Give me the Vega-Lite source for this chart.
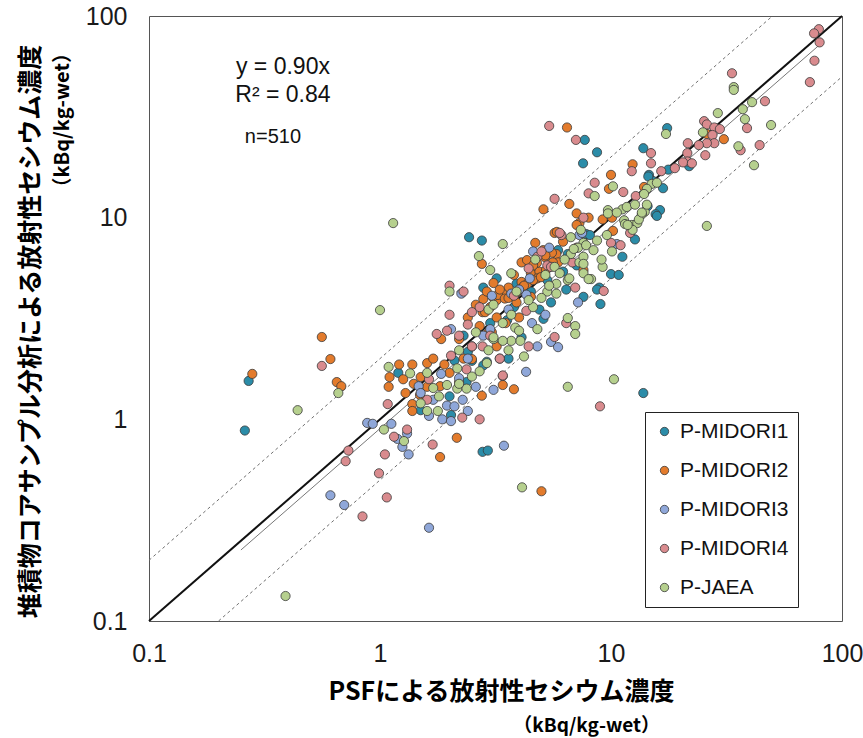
{
  "$schema": "https://vega.github.io/schema/vega-lite/v6.json",
  "width": 693,
  "height": 605,
  "autosize": "none",
  "padding": {"left": 149, "top": 16, "right": 21, "bottom": 117},
  "background": "white",
  "config": {
    "view": {"stroke": "#555555", "strokeWidth": 1},
    "font": "Liberation Sans"
  },
  "datasets": {
    "lines": [
      {"line": "one", "x": 0.1, "y": 0.1}, {"line": "one", "x": 100, "y": 100},
      {"line": "reg", "x": 0.25, "y": 0.225}, {"line": "reg", "x": 80, "y": 72},
      {"line": "up", "x": 0.1, "y": 0.2}, {"line": "up", "x": 50, "y": 100},
      {"line": "lo", "x": 0.2, "y": 0.1}, {"line": "lo", "x": 100, "y": 50}
    ],
    "notes": [
      {"g": "eq", "label": "y = 0.90x", "x": 0.38, "y": 55.8},
      {"g": "eq", "label": "R² = 0.84", "x": 0.38, "y": 40.5},
      {"g": "n", "label": "n=510", "x": 0.344, "y": 25.1},
      {"g": "ux", "label": "（kBq/kg-wet）", "x": 16.3, "y": 0.0303},
      {"g": "uy", "label": "（kBq/kg-wet）", "x": 0.0425, "y": 73.4}
    ],
    "pts": [
      {"s":"P-MIDORI1","x":0.26,"y":0.88},{"s":"P-MIDORI1","x":0.27,"y":1.55},{"s":"P-MIDORI1","x":2.78,"y":0.69},{"s":"P-MIDORI1","x":2.93,"y":0.7},{"s":"P-MIDORI1","x":13.8,"y":1.35},{"s":"P-MIDORI1","x":9.0,"y":3.73},{"s":"P-MIDORI1","x":8.9,"y":4.5},{"s":"P-MIDORI1","x":13.8,"y":22.1},{"s":"P-MIDORI1","x":17.5,"y":27.8},{"s":"P-MIDORI1","x":21.8,"y":18.0},{"s":"P-MIDORI1","x":17.7,"y":17.3},{"s":"P-MIDORI1","x":14.6,"y":16.3},{"s":"P-MIDORI1","x":15.2,"y":15.2},{"s":"P-MIDORI1","x":16.8,"y":14.0},{"s":"P-MIDORI1","x":14.4,"y":11.4},{"s":"P-MIDORI1","x":16.3,"y":10.9},{"s":"P-MIDORI1","x":15.6,"y":10.4},{"s":"P-MIDORI1","x":7.7,"y":24.3},{"s":"P-MIDORI1","x":8.7,"y":21.1},{"s":"P-MIDORI1","x":7.57,"y":18.6},{"s":"P-MIDORI1","x":14.5,"y":16.0},{"s":"P-MIDORI1","x":12.7,"y":7.8},{"s":"P-MIDORI1","x":15.8,"y":10.2},{"s":"P-MIDORI1","x":11.2,"y":6.4},{"s":"P-MIDORI1","x":10.0,"y":5.25},{"s":"P-MIDORI1","x":10.8,"y":5.2},{"s":"P-MIDORI1","x":7.8,"y":8.3},{"s":"P-MIDORI1","x":2.43,"y":8.0},{"s":"P-MIDORI1","x":2.76,"y":7.7},{"s":"P-MIDORI1","x":3.2,"y":5.0},{"s":"P-MIDORI1","x":2.8,"y":4.5},{"s":"P-MIDORI1","x":2.03,"y":1.05},{"s":"P-MIDORI1","x":2.1,"y":1.96},{"s":"P-MIDORI1","x":2.37,"y":1.53},{"s":"P-MIDORI1","x":1.5,"y":1.11},{"s":"P-MIDORI1","x":1.2,"y":1.7},{"s":"P-MIDORI1","x":2.4,"y":2.16},{"s":"P-MIDORI1","x":2.9,"y":1.93},{"s":"P-MIDORI1","x":6.4,"y":4.4},{"s":"P-MIDORI1","x":7.6,"y":4.05},{"s":"P-MIDORI1","x":8.7,"y":4.4},{"s":"P-MIDORI1","x":8.1,"y":8.2},{"s":"P-MIDORI1","x":7.1,"y":5.8},{"s":"P-MIDORI1","x":6.2,"y":5.4},{"s":"P-MIDORI1","x":3.9,"y":4.7},{"s":"P-MIDORI1","x":4.1,"y":2.55},{"s":"P-MIDORI1","x":5.1,"y":3.15},{"s":"P-MIDORI1","x":4.9,"y":3.5},{"s":"P-MIDORI1","x":5.5,"y":3.8},{"s":"P-MIDORI1","x":3.55,"y":3.1},{"s":"P-MIDORI1","x":2.8,"y":1.85},{"s":"P-MIDORI1","x":2.5,"y":1.95},{"s":"P-MIDORI1","x":3.6,"y":2.0},{"s":"P-MIDORI1","x":5.9,"y":6.9},{"s":"P-MIDORI1","x":3.0,"y":3.0},{"s":"P-MIDORI1","x":4.5,"y":4.3},{"s":"P-MIDORI1","x":2.3,"y":2.6},{"s":"P-MIDORI1","x":6.5,"y":6.6},{"s":"P-MIDORI1","x":5.3,"y":4.9},{"s":"P-MIDORI1","x":3.8,"y":3.6},{"s":"P-MIDORI1","x":2.0,"y":1.3},
      {"s":"P-MIDORI2","x":0.28,"y":1.68},{"s":"P-MIDORI2","x":0.56,"y":2.56},{"s":"P-MIDORI2","x":0.61,"y":1.99},{"s":"P-MIDORI2","x":0.65,"y":1.53},{"s":"P-MIDORI2","x":0.68,"y":1.46},{"s":"P-MIDORI2","x":1.82,"y":0.65},{"s":"P-MIDORI2","x":2.15,"y":0.81},{"s":"P-MIDORI2","x":2.76,"y":1.31},{"s":"P-MIDORI2","x":5.0,"y":0.44},{"s":"P-MIDORI2","x":3.4,"y":1.48},{"s":"P-MIDORI2","x":3.8,"y":1.41},{"s":"P-MIDORI2","x":6.45,"y":28},{"s":"P-MIDORI2","x":26,"y":26},{"s":"P-MIDORI2","x":30.8,"y":24.5},{"s":"P-MIDORI2","x":13.9,"y":14.2},{"s":"P-MIDORI2","x":12.4,"y":18.4},{"s":"P-MIDORI2","x":10,"y":16.3},{"s":"P-MIDORI2","x":9.8,"y":13.9},{"s":"P-MIDORI2","x":5.1,"y":11},{"s":"P-MIDORI2","x":6.6,"y":11.7},{"s":"P-MIDORI2","x":7.1,"y":10.5},{"s":"P-MIDORI2","x":7.3,"y":9.4},{"s":"P-MIDORI2","x":8.0,"y":10},{"s":"P-MIDORI2","x":9.2,"y":9.8},{"s":"P-MIDORI2","x":10.1,"y":10},{"s":"P-MIDORI2","x":5.7,"y":8.4},{"s":"P-MIDORI2","x":2.76,"y":5.9},{"s":"P-MIDORI2","x":3.1,"y":4.74},{"s":"P-MIDORI2","x":4.7,"y":7.5},{"s":"P-MIDORI2","x":4.1,"y":6.0},{"s":"P-MIDORI2","x":1.21,"y":1.87},{"s":"P-MIDORI2","x":1.38,"y":1.87},{"s":"P-MIDORI2","x":1.6,"y":1.9},{"s":"P-MIDORI2","x":1.1,"y":1.62},{"s":"P-MIDORI2","x":1.26,"y":1.58},{"s":"P-MIDORI2","x":1.09,"y":1.45},{"s":"P-MIDORI2","x":1.29,"y":1.35},{"s":"P-MIDORI2","x":1.5,"y":1.62},{"s":"P-MIDORI2","x":1.6,"y":1.45},{"s":"P-MIDORI2","x":1.82,"y":1.46},{"s":"P-MIDORI2","x":1.49,"y":1.32},{"s":"P-MIDORI2","x":1.38,"y":1.19},{"s":"P-MIDORI2","x":1.38,"y":1.1},{"s":"P-MIDORI2","x":2.2,"y":1.53},{"s":"P-MIDORI2","x":1.9,"y":1.87},{"s":"P-MIDORI2","x":2.5,"y":1.99},{"s":"P-MIDORI2","x":1.84,"y":2.5},{"s":"P-MIDORI2","x":2.78,"y":3.4},{"s":"P-MIDORI2","x":3.2,"y":3.2},{"s":"P-MIDORI2","x":3.05,"y":2.7},{"s":"P-MIDORI2","x":5.8,"y":6.6},{"s":"P-MIDORI2","x":4.5,"y":5.3},{"s":"P-MIDORI2","x":4.9,"y":5.4},{"s":"P-MIDORI2","x":5.9,"y":6.0},{"s":"P-MIDORI2","x":4.8,"y":5.0},{"s":"P-MIDORI2","x":4.1,"y":4.8},{"s":"P-MIDORI2","x":3.6,"y":4.5},{"s":"P-MIDORI2","x":3.4,"y":4.2},{"s":"P-MIDORI2","x":3.2,"y":3.9},{"s":"P-MIDORI2","x":2.8,"y":3.95},{"s":"P-MIDORI2","x":2.85,"y":3.4},{"s":"P-MIDORI2","x":4.5,"y":4.05},{"s":"P-MIDORI2","x":7.6,"y":5.5},{"s":"P-MIDORI2","x":3.5,"y":3.0},{"s":"P-MIDORI2","x":2.9,"y":2.65},{"s":"P-MIDORI2","x":3.08,"y":4.04},{"s":"P-MIDORI2","x":3.24,"y":4.14},{"s":"P-MIDORI2","x":3.47,"y":3.97},{"s":"P-MIDORI2","x":3.92,"y":4.28},{"s":"P-MIDORI2","x":4.16,"y":4.53},{"s":"P-MIDORI2","x":4.33,"y":4.69},{"s":"P-MIDORI2","x":4.6,"y":4.9},{"s":"P-MIDORI2","x":4.97,"y":5.07},{"s":"P-MIDORI2","x":5.23,"y":5.5},{"s":"P-MIDORI2","x":5.6,"y":6.0},{"s":"P-MIDORI2","x":4.33,"y":6.16},{"s":"P-MIDORI2","x":4.78,"y":5.97},{"s":"P-MIDORI2","x":5.18,"y":6.37},{"s":"P-MIDORI2","x":7.1,"y":9.2},{"s":"P-MIDORI2","x":5.83,"y":8.5},{"s":"P-MIDORI2","x":5.08,"y":6.9},{"s":"P-MIDORI2","x":5.55,"y":6.7},{"s":"P-MIDORI2","x":10.2,"y":8.6},{"s":"P-MIDORI2","x":2.6,"y":3.7},{"s":"P-MIDORI2","x":3.0,"y":3.6},{"s":"P-MIDORI2","x":3.3,"y":4.4},{"s":"P-MIDORI2","x":3.6,"y":4.0},{"s":"P-MIDORI2","x":3.9,"y":3.8},{"s":"P-MIDORI2","x":4.2,"y":4.6},{"s":"P-MIDORI2","x":2.4,"y":3.2},{"s":"P-MIDORI2","x":2.9,"y":4.3},{"s":"P-MIDORI2","x":3.8,"y":5.2},{"s":"P-MIDORI2","x":4.6,"y":5.8},{"s":"P-MIDORI2","x":5.2,"y":6.5},{"s":"P-MIDORI2","x":2.2,"y":2.5},{"s":"P-MIDORI2","x":2.0,"y":1.7},{"s":"P-MIDORI2","x":2.3,"y":2.0},{"s":"P-MIDORI2","x":1.7,"y":2.0},{"s":"P-MIDORI2","x":1.4,"y":1.5},{"s":"P-MIDORI2","x":3.2,"y":2.3},{"s":"P-MIDORI2","x":4.0,"y":3.2},{"s":"P-MIDORI2","x":2.7,"y":2.9},{"s":"P-MIDORI2","x":6.2,"y":7.6},
      {"s":"P-MIDORI3","x":0.61,"y":0.42},{"s":"P-MIDORI3","x":0.7,"y":0.376},{"s":"P-MIDORI3","x":1.63,"y":0.29},{"s":"P-MIDORI3","x":0.88,"y":0.96},{"s":"P-MIDORI3","x":0.93,"y":0.95},{"s":"P-MIDORI3","x":1.12,"y":0.95},{"s":"P-MIDORI3","x":1.31,"y":0.85},{"s":"P-MIDORI3","x":1.19,"y":0.8},{"s":"P-MIDORI3","x":1.25,"y":0.73},{"s":"P-MIDORI3","x":1.33,"y":0.67},{"s":"P-MIDORI3","x":3.44,"y":0.74},{"s":"P-MIDORI3","x":4.29,"y":1.72},{"s":"P-MIDORI3","x":5.5,"y":2.42},{"s":"P-MIDORI3","x":5.9,"y":2.28},{"s":"P-MIDORI3","x":4.8,"y":2.3},{"s":"P-MIDORI3","x":7.2,"y":3.8},{"s":"P-MIDORI3","x":5.4,"y":7.1},{"s":"P-MIDORI3","x":10.6,"y":7.4},{"s":"P-MIDORI3","x":2.25,"y":4.2},{"s":"P-MIDORI3","x":1.47,"y":1.46},{"s":"P-MIDORI3","x":1.63,"y":1.04},{"s":"P-MIDORI3","x":1.86,"y":1.0},{"s":"P-MIDORI3","x":2.03,"y":0.98},{"s":"P-MIDORI3","x":1.95,"y":1.17},{"s":"P-MIDORI3","x":2.1,"y":1.16},{"s":"P-MIDORI3","x":2.28,"y":1.25},{"s":"P-MIDORI3","x":1.84,"y":1.68},{"s":"P-MIDORI3","x":2.03,"y":2.8},{"s":"P-MIDORI3","x":2.5,"y":2.3},{"s":"P-MIDORI3","x":3.0,"y":2.8},{"s":"P-MIDORI3","x":3.1,"y":1.4},{"s":"P-MIDORI3","x":4.45,"y":5.0},{"s":"P-MIDORI3","x":3.7,"y":4.2},{"s":"P-MIDORI3","x":3.05,"y":4.1},{"s":"P-MIDORI3","x":4.3,"y":4.15},{"s":"P-MIDORI3","x":7.3,"y":8.2},{"s":"P-MIDORI3","x":4.55,"y":3.0},{"s":"P-MIDORI3","x":5.2,"y":3.3},{"s":"P-MIDORI3","x":4.6,"y":6.8},{"s":"P-MIDORI3","x":7.5,"y":8.4},{"s":"P-MIDORI3","x":1.7,"y":1.25},{"s":"P-MIDORI3","x":2.4,"y":1.1},{"s":"P-MIDORI3","x":2.6,"y":1.45},{"s":"P-MIDORI3","x":3.3,"y":2.0},{"s":"P-MIDORI3","x":2.2,"y":1.6},{"s":"P-MIDORI3","x":3.6,"y":3.5},{"s":"P-MIDORI3","x":2.8,"y":2.6},{"s":"P-MIDORI3","x":1.5,"y":1.35},{"s":"P-MIDORI3","x":4.0,"y":4.4},{"s":"P-MIDORI3","x":2.4,"y":2.0},
      {"s":"P-MIDORI4","x":0.56,"y":1.84},{"s":"P-MIDORI4","x":0.84,"y":0.33},{"s":"P-MIDORI4","x":1.07,"y":0.41},{"s":"P-MIDORI4","x":0.99,"y":0.54},{"s":"P-MIDORI4","x":1.05,"y":0.67},{"s":"P-MIDORI4","x":0.73,"y":0.7},{"s":"P-MIDORI4","x":0.71,"y":0.62},{"s":"P-MIDORI4","x":1.31,"y":0.89},{"s":"P-MIDORI4","x":1.15,"y":0.82},{"s":"P-MIDORI4","x":1.08,"y":1.19},{"s":"P-MIDORI4","x":1.69,"y":0.75},{"s":"P-MIDORI4","x":2.7,"y":1.0},{"s":"P-MIDORI4","x":8.96,"y":1.16},{"s":"P-MIDORI4","x":3.4,"y":1.64},{"s":"P-MIDORI4","x":2.27,"y":1.02},{"s":"P-MIDORI4","x":6.4,"y":3.0},{"s":"P-MIDORI4","x":5.7,"y":2.56},{"s":"P-MIDORI4","x":4.4,"y":2.3},{"s":"P-MIDORI4","x":9.3,"y":4.33},{"s":"P-MIDORI4","x":79.4,"y":86},{"s":"P-MIDORI4","x":75.7,"y":82},{"s":"P-MIDORI4","x":80,"y":74},{"s":"P-MIDORI4","x":76,"y":60},{"s":"P-MIDORI4","x":72.6,"y":47},{"s":"P-MIDORI4","x":33.4,"y":52},{"s":"P-MIDORI4","x":46.4,"y":37.8},{"s":"P-MIDORI4","x":38.8,"y":27.8},{"s":"P-MIDORI4","x":25.3,"y":30.1},{"s":"P-MIDORI4","x":26,"y":29},{"s":"P-MIDORI4","x":28,"y":28},{"s":"P-MIDORI4","x":29.6,"y":27.5},{"s":"P-MIDORI4","x":27.5,"y":25.7},{"s":"P-MIDORI4","x":28,"y":23.4},{"s":"P-MIDORI4","x":26,"y":23.4},{"s":"P-MIDORI4","x":24,"y":22.9},{"s":"P-MIDORI4","x":21.5,"y":23.4},{"s":"P-MIDORI4","x":36.4,"y":21.6},{"s":"P-MIDORI4","x":44,"y":22.9},{"s":"P-MIDORI4","x":25.6,"y":20.4},{"s":"P-MIDORI4","x":21.4,"y":20.9},{"s":"P-MIDORI4","x":14.9,"y":20.9},{"s":"P-MIDORI4","x":14.9,"y":18.6},{"s":"P-MIDORI4","x":21.4,"y":19},{"s":"P-MIDORI4","x":20.5,"y":18.8},{"s":"P-MIDORI4","x":22.4,"y":18.6},{"s":"P-MIDORI4","x":18.9,"y":17.6},{"s":"P-MIDORI4","x":16.5,"y":17.0},{"s":"P-MIDORI4","x":5.4,"y":28.5},{"s":"P-MIDORI4","x":7.05,"y":24.3},{"s":"P-MIDORI4","x":12.3,"y":17},{"s":"P-MIDORI4","x":8.5,"y":14.9},{"s":"P-MIDORI4","x":8.0,"y":13.2},{"s":"P-MIDORI4","x":11.3,"y":13.4},{"s":"P-MIDORI4","x":5.7,"y":12.4},{"s":"P-MIDORI4","x":7.6,"y":10},{"s":"P-MIDORI4","x":12.8,"y":12.8},{"s":"P-MIDORI4","x":10,"y":7.5},{"s":"P-MIDORI4","x":11.0,"y":7.3},{"s":"P-MIDORI4","x":6.1,"y":8.2},{"s":"P-MIDORI4","x":2.0,"y":4.6},{"s":"P-MIDORI4","x":2.3,"y":4.3},{"s":"P-MIDORI4","x":4.8,"y":6.4},{"s":"P-MIDORI4","x":5.3,"y":5.8},{"s":"P-MIDORI4","x":4.4,"y":5.6},{"s":"P-MIDORI4","x":5.5,"y":5.7},{"s":"P-MIDORI4","x":7.0,"y":4.5},{"s":"P-MIDORI4","x":7.1,"y":7.1},{"s":"P-MIDORI4","x":6.0,"y":8.4},{"s":"P-MIDORI4","x":1.63,"y":1.58},{"s":"P-MIDORI4","x":1.6,"y":1.25},{"s":"P-MIDORI4","x":2.03,"y":2.07},{"s":"P-MIDORI4","x":2.37,"y":1.77},{"s":"P-MIDORI4","x":1.76,"y":2.65},{"s":"P-MIDORI4","x":1.95,"y":2.75},{"s":"P-MIDORI4","x":2.4,"y":2.95},{"s":"P-MIDORI4","x":2.78,"y":2.3},{"s":"P-MIDORI4","x":2.5,"y":3.4},{"s":"P-MIDORI4","x":2.7,"y":3.6},{"s":"P-MIDORI4","x":4.3,"y":3.45},{"s":"P-MIDORI4","x":3.3,"y":2.0},{"s":"P-MIDORI4","x":3.4,"y":1.65},{"s":"P-MIDORI4","x":2.5,"y":2.3},{"s":"P-MIDORI4","x":12.1,"y":8.4},{"s":"P-MIDORI4","x":2.2,"y":2.6},{"s":"P-MIDORI4","x":3.0,"y":2.6},{"s":"P-MIDORI4","x":3.8,"y":4.1},{"s":"P-MIDORI4","x":5.0,"y":6.8},{"s":"P-MIDORI4","x":6.8,"y":6.0},{"s":"P-MIDORI4","x":2.0,"y":3.3},
      {"s":"P-JAEA","x":0.44,"y":1.11},{"s":"P-JAEA","x":0.39,"y":0.133},{"s":"P-JAEA","x":1.0,"y":3.48},{"s":"P-JAEA","x":0.66,"y":1.35},{"s":"P-JAEA","x":1.04,"y":0.89},{"s":"P-JAEA","x":1.27,"y":0.78},{"s":"P-JAEA","x":10.3,"y":1.58},{"s":"P-JAEA","x":6.5,"y":1.45},{"s":"P-JAEA","x":4.12,"y":0.46},{"s":"P-JAEA","x":6.5,"y":3.18},{"s":"P-JAEA","x":7.0,"y":2.9},{"s":"P-JAEA","x":7.0,"y":2.65},{"s":"P-JAEA","x":34,"y":44.4},{"s":"P-JAEA","x":34,"y":43},{"s":"P-JAEA","x":40.8,"y":37.4},{"s":"P-JAEA","x":37.2,"y":34.5},{"s":"P-JAEA","x":29,"y":33},{"s":"P-JAEA","x":38,"y":30.8},{"s":"P-JAEA","x":49.3,"y":28.8},{"s":"P-JAEA","x":25,"y":26.5},{"s":"P-JAEA","x":35.6,"y":22.6},{"s":"P-JAEA","x":41.6,"y":18.2},{"s":"P-JAEA","x":17.3,"y":26},{"s":"P-JAEA","x":15,"y":14.7},{"s":"P-JAEA","x":15.8,"y":14.9},{"s":"P-JAEA","x":14.3,"y":13.9},{"s":"P-JAEA","x":13.9,"y":13.1},{"s":"P-JAEA","x":14,"y":10.7},{"s":"P-JAEA","x":13.6,"y":10.4},{"s":"P-JAEA","x":10.2,"y":14.3},{"s":"P-JAEA","x":8.5,"y":12.8},{"s":"P-JAEA","x":9.7,"y":10.9},{"s":"P-JAEA","x":11.2,"y":11},{"s":"P-JAEA","x":11.7,"y":11.3},{"s":"P-JAEA","x":12.7,"y":11.6},{"s":"P-JAEA","x":14.3,"y":11.6},{"s":"P-JAEA","x":9.7,"y":10.5},{"s":"P-JAEA","x":10.6,"y":10.6},{"s":"P-JAEA","x":11.4,"y":9.7},{"s":"P-JAEA","x":11.5,"y":9.3},{"s":"P-JAEA","x":12.3,"y":9.2},{"s":"P-JAEA","x":13,"y":9.4},{"s":"P-JAEA","x":13.2,"y":9.8},{"s":"P-JAEA","x":12.4,"y":8.7},{"s":"P-JAEA","x":11.8,"y":9.2},{"s":"P-JAEA","x":10.1,"y":6.8},{"s":"P-JAEA","x":9.2,"y":5.7},{"s":"P-JAEA","x":7.6,"y":5.3},{"s":"P-JAEA","x":8.2,"y":4.96},{"s":"P-JAEA","x":8.0,"y":4.96},{"s":"P-JAEA","x":7.3,"y":6.0},{"s":"P-JAEA","x":7.6,"y":6.4},{"s":"P-JAEA","x":7.6,"y":7.5},{"s":"P-JAEA","x":6.7,"y":8.0},{"s":"P-JAEA","x":7.2,"y":7.1},{"s":"P-JAEA","x":9.1,"y":6.2},{"s":"P-JAEA","x":3.4,"y":7.4},{"s":"P-JAEA","x":2.68,"y":6.45},{"s":"P-JAEA","x":3.0,"y":5.5},{"s":"P-JAEA","x":2.0,"y":4.3},{"s":"P-JAEA","x":1.14,"y":9.4},{"s":"P-JAEA","x":26,"y":9.1},{"s":"P-JAEA","x":1.09,"y":1.82},{"s":"P-JAEA","x":1.35,"y":1.69},{"s":"P-JAEA","x":1.6,"y":1.7},{"s":"P-JAEA","x":1.7,"y":1.43},{"s":"P-JAEA","x":1.95,"y":1.48},{"s":"P-JAEA","x":1.5,"y":1.2},{"s":"P-JAEA","x":1.78,"y":1.1},{"s":"P-JAEA","x":2.16,"y":1.42},{"s":"P-JAEA","x":2.37,"y":1.42},{"s":"P-JAEA","x":2.5,"y":1.63},{"s":"P-JAEA","x":2.7,"y":1.73},{"s":"P-JAEA","x":2.16,"y":1.79},{"s":"P-JAEA","x":2.2,"y":2.2},{"s":"P-JAEA","x":2.95,"y":2.2},{"s":"P-JAEA","x":3.1,"y":2.5},{"s":"P-JAEA","x":2.95,"y":3.5},{"s":"P-JAEA","x":3.1,"y":3.7},{"s":"P-JAEA","x":3.7,"y":5.3},{"s":"P-JAEA","x":5.2,"y":5.2},{"s":"P-JAEA","x":5.3,"y":4.3},{"s":"P-JAEA","x":5.8,"y":4.2},{"s":"P-JAEA","x":6.5,"y":4.9},{"s":"P-JAEA","x":7.8,"y":7.3},{"s":"P-JAEA","x":8.4,"y":6.9},{"s":"P-JAEA","x":7.6,"y":5.9},{"s":"P-JAEA","x":6.7,"y":6.6},{"s":"P-JAEA","x":5.8,"y":4.7},{"s":"P-JAEA","x":4.05,"y":2.45},{"s":"P-JAEA","x":3.7,"y":2.45},{"s":"P-JAEA","x":3.85,"y":2.85},{"s":"P-JAEA","x":4.0,"y":2.75},{"s":"P-JAEA","x":4.6,"y":3.6},{"s":"P-JAEA","x":3.7,"y":3.3},{"s":"P-JAEA","x":3.1,"y":2.55},{"s":"P-JAEA","x":3.4,"y":2.45},{"s":"P-JAEA","x":4.2,"y":2.05},{"s":"P-JAEA","x":5.7,"y":5.7},{"s":"P-JAEA","x":13.6,"y":10.6},{"s":"P-JAEA","x":6.9,"y":7.0},{"s":"P-JAEA","x":8.7,"y":7.7},{"s":"P-JAEA","x":6.3,"y":6.2},{"s":"P-JAEA","x":5.0,"y":4.0},{"s":"P-JAEA","x":4.4,"y":3.9},{"s":"P-JAEA","x":3.4,"y":3.0},{"s":"P-JAEA","x":2.6,"y":2.7},{"s":"P-JAEA","x":3.6,"y":2.2},{"s":"P-JAEA","x":4.8,"y":2.8},{"s":"P-JAEA","x":6.0,"y":5.3},{"s":"P-JAEA","x":5.4,"y":4.6},{"s":"P-JAEA","x":9.6,"y":8.2},{"s":"P-JAEA","x":6.6,"y":5.0},{"s":"P-JAEA","x":2.2,"y":1.5},{"s":"P-JAEA","x":1.8,"y":1.3},{"s":"P-JAEA","x":2.9,"y":1.9},{"s":"P-JAEA","x":1.6,"y":1.1},{"s":"P-JAEA","x":3.9,"y":4.3},{"s":"P-JAEA","x":4.7,"y":6.2},{"s":"P-JAEA","x":7.4,"y":8.7}
    ]
  },
  "encoding": {
    "x": {
      "field": "x", "type": "quantitative",
      "scale": {"type": "log", "domain": [0.1, 100], "nice": false},
      "axis": {
        "values": [0.1, 1, 10, 100], "format": "~g",
        "ticks": false, "domain": false, "grid": false,
        "labelFont": "Liberation Sans", "labelFontSize": 25, "labelColor": "#1a1a1a", "labelPadding": 20,
        "labelFlush": false, "labelOverlap": false,
        "title": "PSFによる放射性セシウム濃度",
        "titleFont": "Noto Sans CJK JP", "titleFontWeight": "bold", "titleFontSize": 25, "titleColor": "#000000",
        "titleX": 352, "titleY": 70, "titleAlign": "center", "titleBaseline": "middle"
      }
    },
    "y": {
      "field": "y", "type": "quantitative",
      "scale": {"type": "log", "domain": [0.1, 100], "nice": false},
      "axis": {
        "values": [0.1, 1, 10, 100], "format": "~g",
        "ticks": false, "domain": false, "grid": false,
        "labelFont": "Liberation Sans", "labelFontSize": 25, "labelColor": "#1a1a1a", "labelPadding": 22,
        "labelFlush": false, "labelOverlap": false,
        "title": "堆積物コアサンプル分析による放射性セシウム濃度",
        "titleFont": "Noto Sans CJK JP", "titleFontWeight": "bold", "titleFontSize": 25, "titleColor": "#000000",
        "titleX": -119, "titleY": 315, "titleAngle": 270, "titleAlign": "center", "titleBaseline": "middle"
      }
    }
  },
  "layer": [
    {
      "data": {"name": "lines"},
      "transform": [{"filter": "datum.line === 'up' || datum.line === 'lo'"}],
      "mark": {"type": "line", "color": "#707070", "strokeWidth": 1, "strokeDash": [3, 3]},
      "encoding": {"detail": {"field": "line"}}
    },
    {
      "data": {"name": "lines"},
      "transform": [{"filter": "datum.line === 'reg'"}],
      "mark": {"type": "line", "color": "#777777", "strokeWidth": 1}
    },
    {
      "data": {"name": "lines"},
      "transform": [{"filter": "datum.line === 'one'"}],
      "mark": {"type": "line", "color": "#111111", "strokeWidth": 2}
    },
    {
      "data": {"name": "pts"},
      "mark": {"type": "point", "shape": "circle", "filled": true, "size": 85, "opacity": 1, "stroke": "#3a3a3a", "strokeWidth": 0.8},
      "encoding": {
        "color": {
          "field": "s", "type": "nominal",
          "scale": {
            "domain": ["P-MIDORI1", "P-MIDORI2", "P-MIDORI3", "P-MIDORI4", "P-JAEA"],
            "range": ["#2B8CA8", "#E37B2C", "#8FA7D9", "#D98B8E", "#B6D08E"]
          },
          "legend": {
            "title": null, "orient": "none", "legendX": 496, "legendY": 396,
            "padding": 9, "strokeColor": "#222222", "fillColor": "white",
            "labelFont": "Liberation Sans", "labelFontSize": 21, "labelColor": "#111111",
            "labelOffset": 5, "rowPadding": 17,
            "symbolType": "circle", "symbolSize": 70, "symbolStrokeColor": "#3a3a3a", "symbolStrokeWidth": 0.8
          }
        }
      }
    },
    {
      "data": {"name": "notes"},
      "transform": [{"filter": "datum.g === 'eq'"}],
      "mark": {"type": "text", "font": "Liberation Sans", "fontSize": 23, "color": "#111111", "align": "center", "baseline": "middle"},
      "encoding": {"text": {"field": "label"}}
    },
    {
      "data": {"name": "notes"},
      "transform": [{"filter": "datum.g === 'n'"}],
      "mark": {"type": "text", "font": "Liberation Sans", "fontSize": 20, "color": "#111111", "align": "center", "baseline": "middle"},
      "encoding": {"text": {"field": "label"}}
    },
    {
      "data": {"name": "notes"},
      "transform": [{"filter": "datum.g === 'ux'"}],
      "mark": {"type": "text", "font": "Noto Sans CJK JP", "fontWeight": "bold", "fontSize": 19, "color": "#000000", "align": "right", "baseline": "middle"},
      "encoding": {"text": {"field": "label"}}
    },
    {
      "data": {"name": "notes"},
      "transform": [{"filter": "datum.g === 'uy'"}],
      "mark": {"type": "text", "font": "Noto Sans CJK JP", "fontWeight": "bold", "fontSize": 20, "color": "#000000", "align": "right", "baseline": "middle", "angle": 270},
      "encoding": {"text": {"field": "label"}}
    }
  ]
}
